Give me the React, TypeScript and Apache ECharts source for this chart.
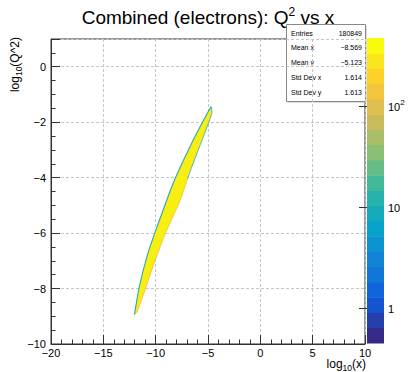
import React, { useEffect, useRef } from 'react';
import * as echarts from 'echarts';

// ---- data ----
const xTickValues = [-20, -15, -10, -5, 0, 5, 10];
const yTickValues = [-10, -8, -6, -4, -2, 0];

// outline of the filled 2D-histogram band (log10 x, log10 Q^2)
const leftEdgeX = [-4.69, -5.02, -5.72, -6.22, -7.0, -7.6, -8.17, -8.8, -9.15, -10.08, -10.82, -11.55, -12.03];
const leftEdgeY = [-1.44, -1.65, -2.14, -2.5, -3.1, -3.58, -4.06, -4.66, -5.03, -5.99, -6.83, -7.91, -8.94];
const rightEdgeX = [-4.62, -5.06, -5.42, -6.03, -6.52, -6.98, -7.5, -7.9, -9.05, -10.02, -11.0, -11.8];
const rightEdgeY = [-1.65, -2.14, -2.5, -3.1, -3.58, -4.06, -4.66, -5.03, -5.99, -6.95, -8.03, -8.87];

const statLabels = ['Entries', 'Mean x', 'Mean y', 'Std Dev x', 'Std Dev y'];
const statValues = ['180849', '\u22128.569', '\u22125.123', '1.614', '1.613'];

const zMin = 0.45;
const zMax = 470;
const zMajorTicks = [1, 10, 100];
const zMinorTicks = [0.5, 0.6, 0.7, 0.8, 0.9, 2, 3, 4, 5, 6, 7, 8, 9, 20, 30, 40, 50, 60, 70, 80, 90, 200, 300, 400];

// ---- style ----
const FONT = '"Liberation Sans", Arial, Helvetica, sans-serif';
const N_LEVELS = 20;
const birdStops = [0, 0.125, 0.25, 0.375, 0.5, 0.625, 0.75, 0.875, 1];
const birdR = [0.2082, 0.0592, 0.078, 0.0232, 0.1802, 0.5301, 0.8186, 0.9956, 0.9764];
const birdG = [0.1664, 0.3599, 0.5041, 0.6419, 0.7178, 0.7492, 0.7328, 0.7862, 0.9832];
const birdB = [0.5293, 0.8684, 0.8385, 0.7914, 0.6425, 0.4662, 0.3499, 0.1968, 0.0539];

function bird(t: number): string {
  let k = 0;
  while (k < birdStops.length - 2 && t > birdStops[k + 1]) k++;
  const f = (t - birdStops[k]) / (birdStops[k + 1] - birdStops[k]);
  const c = (a: number[]) => Math.round(255 * (a[k] + (a[k + 1] - a[k]) * f));
  return `rgb(${c(birdR)},${c(birdG)},${c(birdB)})`;
}
const levelColors = Array.from({ length: N_LEVELS }, (_, i) => bird(i / (N_LEVELS - 1)));

const minus = (v: number) => String(v).replace('-', '\u2212');

function buildOption(): any {
  const lz0 = Math.log10(zMin);
  const lz1 = Math.log10(zMax);
  return {
    animation: false,
    backgroundColor: '#fff',
    grid: [
      { left: 51, top: 39, width: 314, height: 305, show: true, borderColor: '#333', borderWidth: 1, backgroundColor: '#fff' },
      { left: 367, top: 38, width: 17, height: 305, show: false },
    ],
    xAxis: [
      {
        gridIndex: 0, type: 'value', min: -20, max: 10, interval: 5,
        axisLine: { show: true, onZero: false, lineStyle: { color: '#333', width: 1 } },
        axisTick: { show: true, inside: true, length: 9, lineStyle: { color: '#333' } },
        minorTick: { show: true, splitNumber: 5, length: 4.5, lineStyle: { color: '#333' } },
        splitLine: { show: true, lineStyle: { color: '#c6c6c6', type: [3, 2], width: 1 } },
        axisLabel: { margin: 3, fontSize: 11, color: '#000', fontFamily: FONT, formatter: (v: number) => (xTickValues.includes(v) ? minus(v) : '') },
      },
      { gridIndex: 1, type: 'value', min: 0, max: 1, show: false },
    ],
    yAxis: [
      {
        gridIndex: 0, type: 'value', min: -10, max: 1, interval: 2,
        axisLine: { show: true, onZero: false, lineStyle: { color: '#333', width: 1 } },
        axisTick: { show: true, inside: true, length: 9, lineStyle: { color: '#333' } },
        minorTick: { show: true, splitNumber: 4, length: 4.5, lineStyle: { color: '#333' } },
        splitLine: { show: true, lineStyle: { color: '#c6c6c6', type: [3, 2], width: 1 } },
        axisLabel: { margin: 5, fontSize: 11, color: '#000', fontFamily: FONT, formatter: (v: number) => (yTickValues.includes(v) ? minus(v) : '') },
      },
      {
        gridIndex: 1, type: 'log', logBase: 10, min: zMin, max: zMax, position: 'right',
        axisLine: { show: false },
        axisTick: { show: true, inside: true, length: 8, customValues: zMajorTicks, lineStyle: { color: '#333' } },
        splitLine: { show: false },
        axisLabel: {
          customValues: zMajorTicks, margin: 4, color: '#000', fontFamily: FONT, fontSize: 11,
          formatter: (v: number) => (v >= 99 ? '{a|10}{b|2}' : `{a|${Math.round(v)}}`),
          rich: {
            a: { fontSize: 11, fontFamily: FONT, color: '#000', lineHeight: 14, verticalAlign: 'bottom' },
            b: { fontSize: 8, fontFamily: FONT, color: '#000', lineHeight: 8, verticalAlign: 'top' },
          },
        },
      },
      {
        gridIndex: 1, type: 'log', logBase: 10, min: zMin, max: zMax, position: 'right',
        axisLine: { show: false },
        axisTick: { show: true, inside: true, length: 4, customValues: zMinorTicks, lineStyle: { color: '#333' } },
        splitLine: { show: false },
        axisLabel: { show: false },
      },
    ],
    series: [
      {
        type: 'custom', xAxisIndex: 0, yAxisIndex: 0, z: 3,
        data: [[leftEdgeX[0], leftEdgeY[0]]],
        renderItem: (_p: any, api: any) => {
          const L = leftEdgeX.map((x, i) => api.coord([x, leftEdgeY[i]]));
          const R = rightEdgeX.map((x, i) => api.coord([x, rightEdgeY[i]]));
          const poly = [...L, ...R.slice().reverse()];
          return {
            type: 'group',
            children: [
              { type: 'polygon', shape: { points: poly, smooth: 0.2 }, style: { fill: '#f8ee10', stroke: 'none' } },
              { type: 'polyline', shape: { points: L, smooth: 0.2 }, style: { stroke: '#2ca6c4', lineWidth: 1.1, fill: 'none' } },
              { type: 'polyline', shape: { points: [L[0], ...R.slice(0, 6)], smooth: 0.2 }, style: { stroke: '#45aabc', lineWidth: 0.9, fill: 'none' } },
              { type: 'polyline', shape: { points: R.slice(5), smooth: 0.2 }, style: { stroke: '#efc23a', lineWidth: 0.9, fill: 'none' } },
            ],
          };
        },
      },
      {
        type: 'custom', xAxisIndex: 1, yAxisIndex: 1,
        data: levelColors.map((_, i) => [i]),
        renderItem: (p: any, api: any) => {
          const i = p.dataIndex;
          const lo = Math.pow(10, lz0 + (i * (lz1 - lz0)) / N_LEVELS);
          const hi = Math.pow(10, lz0 + ((i + 1) * (lz1 - lz0)) / N_LEVELS);
          const a = api.coord([0, lo]);
          const b = api.coord([1, hi]);
          return {
            type: 'rect',
            shape: { x: a[0], y: b[1], width: b[0] - a[0], height: a[1] - b[1] + 0.5 },
            style: { fill: levelColors[i], stroke: 'none' },
          };
        },
      },
    ],
    graphic: [
      {
        type: 'text', x: 208, y: 17, z: 20,
        style: {
          text: '{m|Combined (electrons): Q}{s|2}{m| vs x}',
          align: 'center', verticalAlign: 'middle',
          rich: {
            m: { fontSize: 19, fontFamily: FONT, fill: '#000', lineHeight: 22 },
            s: { fontSize: 12, fontFamily: FONT, fill: '#000', lineHeight: 12, verticalAlign: 'top' },
          },
        },
      },
      {
        type: 'text', x: 366, y: 364, z: 20,
        style: {
          text: '{m|log}{s|10}{m|(x)}',
          align: 'right', verticalAlign: 'middle',
          rich: {
            m: { fontSize: 12, fontFamily: FONT, fill: '#000', lineHeight: 16 },
            s: { fontSize: 8.5, fontFamily: FONT, fill: '#000', lineHeight: 9, verticalAlign: 'bottom' },
          },
        },
      },
      {
        type: 'text', x: 15, y: 37, rotation: Math.PI / 2, z: 20,
        style: {
          text: '{m|log}{s|10}{m|(Q^2)}',
          align: 'right', verticalAlign: 'middle',
          rich: {
            m: { fontSize: 12, fontFamily: FONT, fill: '#000', lineHeight: 16 },
            s: { fontSize: 8.5, fontFamily: FONT, fill: '#000', lineHeight: 9, verticalAlign: 'bottom' },
          },
        },
      },
      {
        type: 'group', z: 30,
        children: [
          { type: 'rect', shape: { x: 287.5, y: 25.5, width: 79, height: 77 }, style: { fill: '#bbb', stroke: 'none' } },
          { type: 'rect', shape: { x: 286.5, y: 24.5, width: 79, height: 77 }, style: { fill: '#fff', stroke: '#888', lineWidth: 1 } },
          ...statLabels.map((t, i) => ({
            type: 'text', x: 291, y: 33 + i * 14.8,
            style: { text: t, fontSize: 7, fontFamily: FONT, fill: '#000', align: 'left', verticalAlign: 'middle' },
          })),
          ...statValues.map((t, i) => ({
            type: 'text', x: 362, y: 33 + i * 14.8,
            style: { text: t, fontSize: 7, fontFamily: FONT, fill: '#000', align: 'right', verticalAlign: 'middle' },
          })),
        ],
      },
    ],
  };
}

export default function App() {
  const ref = useRef<HTMLDivElement>(null);
  useEffect(() => {
    if (!ref.current) return;
    const chart = echarts.init(ref.current, null, { renderer: 'svg' });
    chart.setOption(buildOption());
    return () => chart.dispose();
  }, []);
  return (
    <div
      ref={ref}
      style={{ position: 'fixed', left: 0, top: 0, width: 410, height: 372, background: '#fff' }}
    />
  );
}
